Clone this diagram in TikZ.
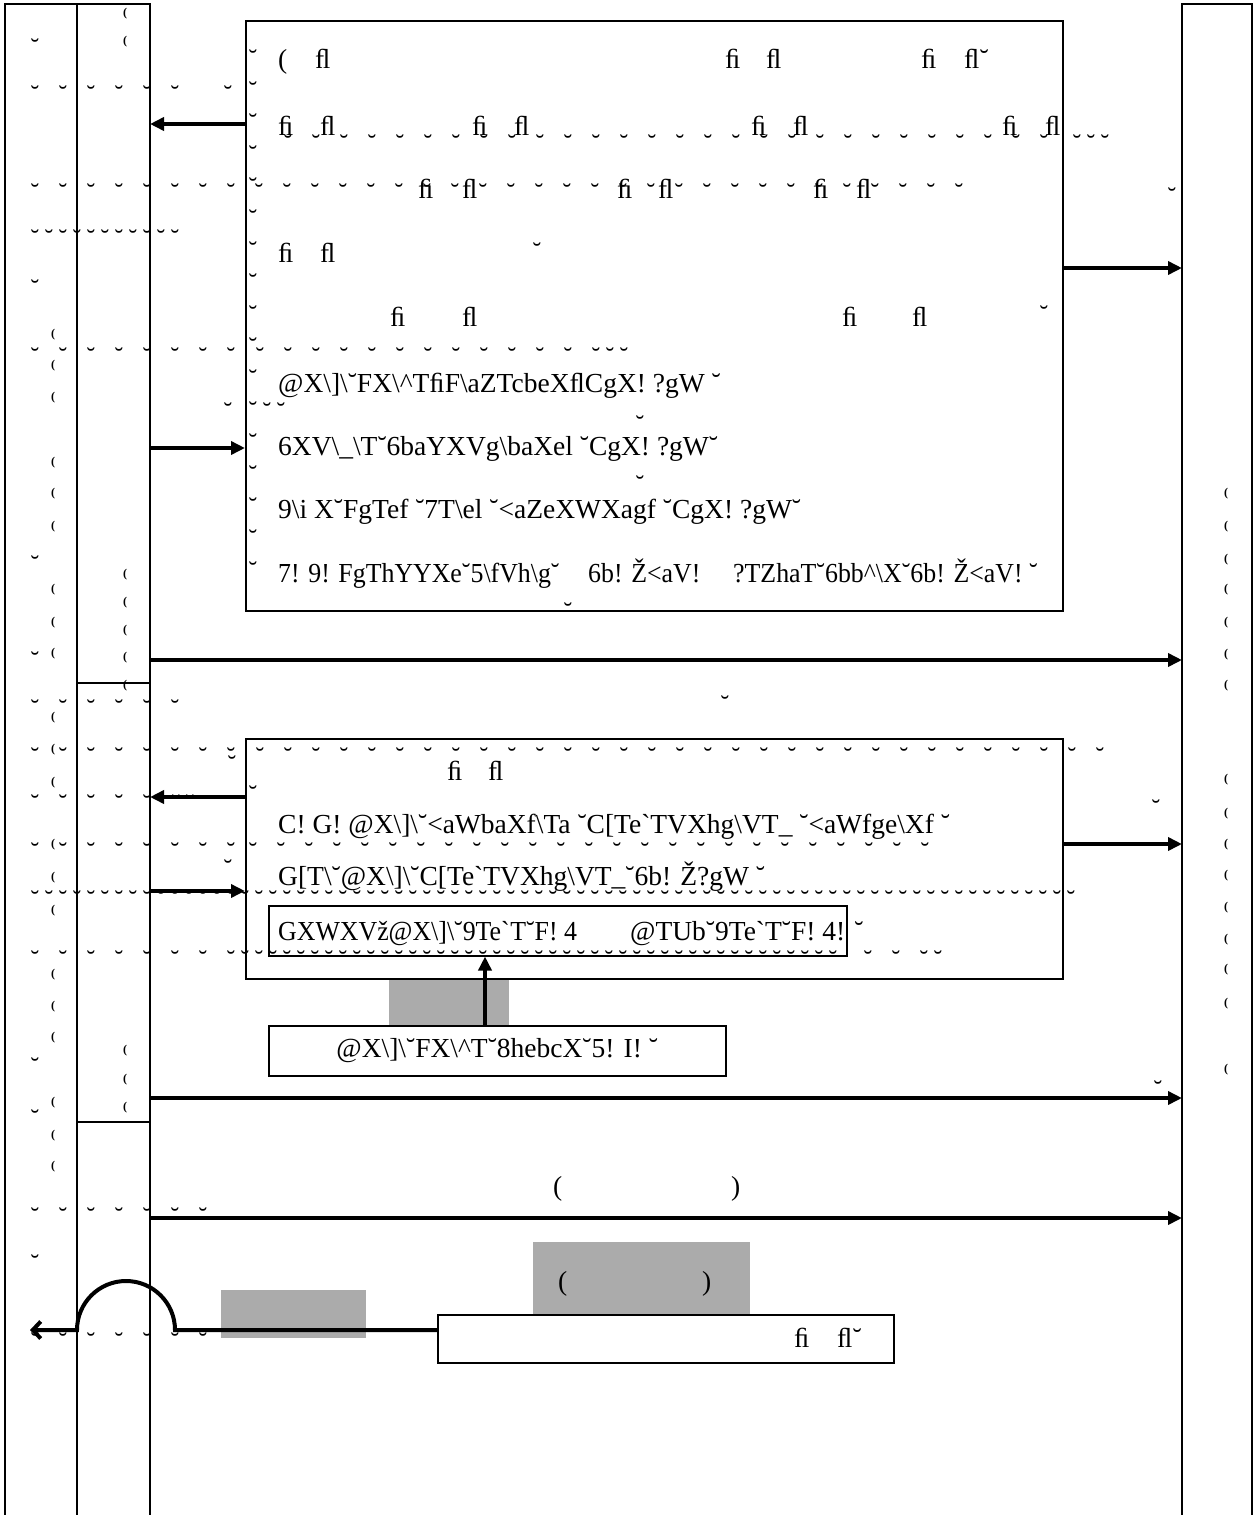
\documentclass[tikz,border=0pt]{standalone}
\usepackage{fontspec}
\setmainfont{Liberation Serif}
\newfontfamily\narrow[FakeStretch=0.94]{Liberation Serif}
\usetikzlibrary{arrows.meta}

\definecolor{gry}{HTML}{ABABAB}
\newcommand\bs{\textbackslash}
\newcommand\crt{\textasciicircum}
\newcommand\grv{\textasciigrave}
\newcommand\bigtxt{\fontsize{27.5}{31}\selectfont}
\newcommand\brvg{\raisebox{-0.59em}{˘}}
% row of breve marks: list of x, then y
\newcommand\brvrow[2]{\foreach \bx in {#1} \node[brv] (b-\bx-#2) at (\bx,#2) {\brvg};}

\begin{document}
\begin{tikzpicture}[x=1pt,y=1pt,yscale=-1,
	box/.style={draw,line width=1.5pt,fill=white,inner sep=0pt,anchor=north west},
	life/.style={line width=1.5pt},
	msg/.style={line width=4pt,-{Triangle[length=14pt,width=13pt]}},
	ret/.style={line width=4pt,-{Straight Barb[length=8pt,width=17pt]}},
	txt/.style={anchor=base west,inner sep=0pt,font=\bigtxt},
	ntxt/.style={txt,font=\bigtxt\narrow},
	brv/.style={anchor=base,inner sep=0pt,font=\fontsize{26}{30}\selectfont},
	opn/.style={inner sep=0pt,font=\fontsize{12}{12}\selectfont\bfseries}]
	\useasboundingbox (0,0) rectangle (1256,1515);

	% lifelines
	\draw[life] (5,1515) -- (5,4) -- (150,4) -- (150,1515);
	\draw[life] (77,4) -- (77,1515);
	\draw[life] (77,683) -- (150,683) (77,1122) -- (150,1122);
	\draw[life] (1182,1515) -- (1182,4) -- (1252,4) -- (1252,1515);
	\coordinate (act) at (150,0);
	\coordinate (srv) at (1182,0);
	\coordinate (out) at (30,1330);

	% grey patches
	\fill[gry] (389,978) rectangle (509,1025);
	\fill[gry] (533,1242) rectangle (750,1314);
	\fill[gry] (221,1290) rectangle (366,1338);

	% boxes
	\node[box,minimum width=817pt,minimum height=590pt] (req) at (245,20) {};
	\node[box,minimum width=817pt,minimum height=240pt] (ack) at (245,738) {};
	\node[box,minimum width=578pt,minimum height=50pt] (key) at (268,905) {};
	\node[box,minimum width=457pt,minimum height=50pt,font=\bigtxt] (qry) at (268,1025)
		{@X\bs{}]\bs{}˘FX\bs{}\crt{}T˘8hebcX˘5! I! ˘};
	\node[box,minimum width=456pt,minimum height=48pt] (res) at (437,1314) {};

	% texts of the first box
	\node[txt] (r1a) at (278,68) {(};
	\node[txt] (r1b) at (315,68) {ﬂ};
	\foreach \x/\s [count=\i] in {725/ﬁ,766/ﬂ,921/ﬁ,964/ﬂ˘}
		\node[txt] (r1-\i) at (\x,68) {\s};
	\foreach \x/\s [count=\i] in {278/ﬁ,320/ﬂ,472/ﬁ,514/ﬂ,751/ﬁ,793/ﬂ,1002/ﬁ,1045/ﬂ}
		\node[txt] (r2-\i) at (\x,135) {\s};
	\foreach \x/\s [count=\i] in {418/ﬁ,462/ﬂ,617/ﬁ,658/ﬂ,813/ﬁ,856/ﬂ}
		\node[txt] (r3-\i) at (\x,198) {\s};
	\foreach \x/\s [count=\i] in {278/ﬁ,320/ﬂ}
		\node[txt] (r4-\i) at (\x,262) {\s};
	\foreach \x/\s [count=\i] in {390/ﬁ,462/ﬂ,842/ﬁ,912/ﬂ}
		\node[txt] (r5-\i) at (\x,326) {\s};
	\node[txt] (r7) at (278,392) {@X\bs{}]\bs{}˘FX\bs{}\crt{}TﬁF\bs{}aZTcbeXﬂCgX! ?gW ˘};
	\node[txt] (r8) at (278,455) {6XV\bs{}\_\bs{}T˘6baYXVg\bs{}baXel ˘CgX! ?gW˘};
	\node[txt] (r9) at (278,518) {9\bs{}i X˘FgTef ˘7T\bs{}el ˘<aZeXWXagf ˘CgX! ?gW˘};
	\node[ntxt] (r10a) at (278,582) {7! 9! FgThYYXe˘5\bs{}fVh\bs{}g˘};
	\node[ntxt] (r10b) at (588,582) {6b! Ž<aV!};
	\node[ntxt] (r10c) at (733,582) {?TZhaT˘6bb\crt{}\bs{}X˘6b! Ž<aV! ˘};

	% texts of the second box
	\node[txt] (a1) at (447,780) {ﬁ};
	\node[txt] (a2) at (488,780) {ﬂ};
	\node[txt] (a3) at (278,833) {C! G! @X\bs{}]\bs{}˘<aWbaXf\bs{}Ta ˘C[Te\grv{}TVXhg\bs{}VT\_ ˘<aWfge\bs{}Xf ˘};
	\node[txt] (a4) at (278,885) {G[T\bs{}˘@X\bs{}]\bs{}˘C[Te\grv{}TVXhg\bs{}VT\_˘6b! Ž?gW ˘};
	\node[ntxt] (k1) at (278,940) {GXWXVž@X\bs{}]\bs{}˘9Te\grv{}T˘F! 4};
	\node[txt] (k2) at (630,940) {@TUb˘9Te\grv{}T˘F! 4! ˘};

	% lower texts
	\node[txt] (p1) at (553,1195) {(};
	\node[txt] (p2) at (731,1195) {)};
	\node[txt] (p3) at (558,1290) {(};
	\node[txt] (p4) at (702,1290) {)};
	\node[txt] (s1) at (794,1347) {ﬁ};
	\node[txt] (s2) at (837,1347) {ﬂ˘};

	% messages
	\draw[msg] (req.west |- 0,124) -- (act |- 0,124);
	\draw[msg] (req.east |- 0,268) -- (srv |- 0,268);
	\draw[msg] (act |- 0,448) -- (req.west |- 0,448);
	\draw[msg] (act |- 0,660) -- (srv |- 0,660);
	\draw[msg] (ack.west |- 0,797) -- (act |- 0,797);
	\draw[msg] (ack.east |- 0,844) -- (srv |- 0,844);
	\draw[msg] (act |- 0,891) -- (ack.west |- 0,891);
	\draw[msg] (qry.north -| 485,0) -- (key.south -| 485,0);
	\draw[msg] (act |- 0,1098) -- (srv |- 0,1098);
	\draw[msg] (act |- 0,1218) -- (srv |- 0,1218);
	\draw[ret] (res.west |- 0,1330) -- (175,1330) arc[start angle=0,end angle=-180,radius=49] -- (out);

	% stray marks
	\foreach \y in {52,84,...,564} \node[brv] (c-\y) at (253,\y) {\brvg};
	\brvrow{35}{41}
	\brvrow{35,63,...,175}{88}
	\brvrow{228}{88}
	\brvrow{288,316,...,1044}{137}
	\brvrow{1077,1091,1105}{137}
	\brvrow{35,63,...,959}{186}
	\brvrow{1172}{190}
	\brvrow{35,49,...,175}{232}
	\brvrow{537}{245}
	\brvrow{35}{282}
	\brvrow{1044}{308}
	\brvrow{35,63,...,231}{350}
	\brvrow{260,288,...,596}{350}
	\brvrow{610,624}{350}
	\brvrow{228,267,281}{405}
	\brvrow{640}{418}
	\brvrow{640}{478}
	\brvrow{35}{558}
	\brvrow{568}{605}
	\brvrow{35}{654}
	\brvrow{725}{698}
	\brvrow{35,63,...,175}{702}
	\brvrow{35,63,...,231}{750}
	\brvrow{260,288,...,1100}{750}
	\brvrow{232}{758}
	\brvrow{253}{788}
	\brvrow{35,63,...,147}{797}
	\brvrow{176,190}{797}
	\brvrow{1156}{802}
	\brvrow{35,63,...,231}{845}
	\brvrow{253,281,...,940}{845}
	\brvrow{228}{862}
	\brvrow{35,49,...,1071}{893}
	\brvrow{35,63,...,231}{953}
	\brvrow{245,259,...,840}{953}
	\brvrow{868,896,924,938}{953}
	\brvrow{35}{1060}
	\brvrow{1158}{1083}
	\brvrow{35}{1112}
	\brvrow{35,63,...,203}{1210}
	\brvrow{35}{1257}
	\brvrow{35,63,...,203}{1335}
	\foreach \y in {14,42,575,603,631,658,686,1051,1080,1108}
		\node[opn] (pm-\y) at (125,\y) {(};
	\foreach \y in {335,366,398,463,494,527,590,623,654,718,750,783,845,878,911,975,1007,1038,1103,1136,1167}
		\node[opn] (pl-\y) at (53,\y) {(};
	\foreach \y in {494,527,560,590,623,655,686,780,814,845,876,908,940,970,1004,1070}
		\node[opn] (pr-\y) at (1226,\y) {(};
\end{tikzpicture}
\end{document}
